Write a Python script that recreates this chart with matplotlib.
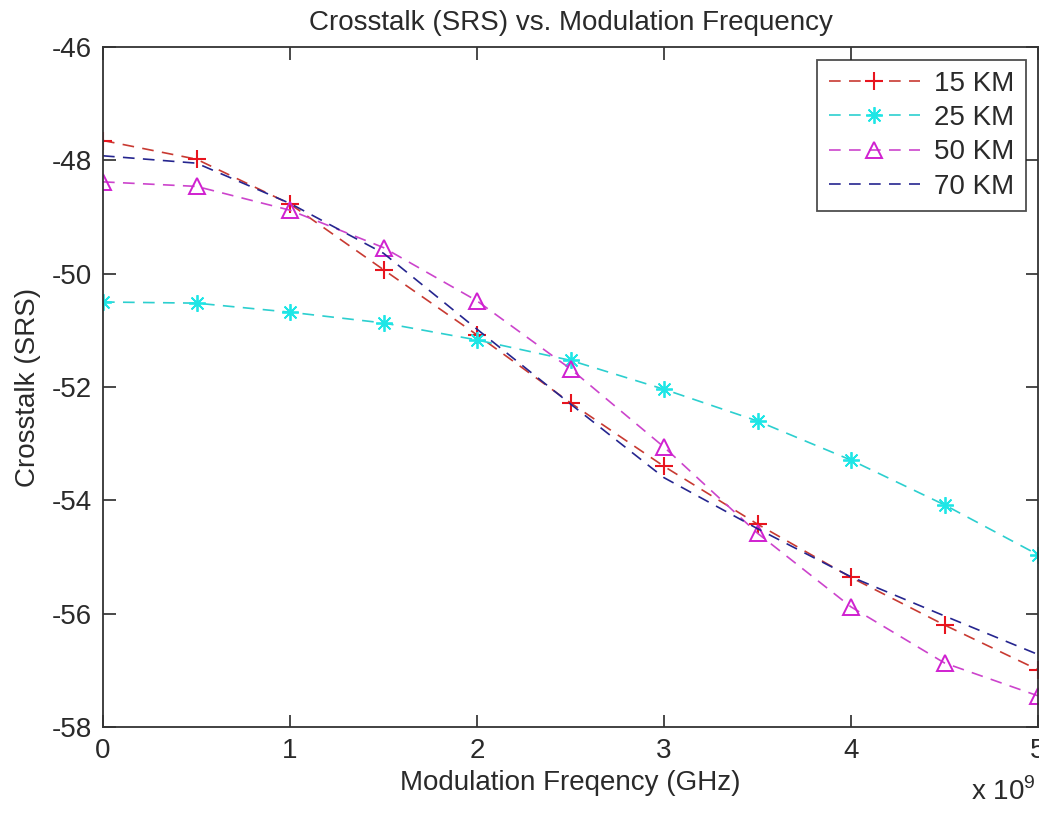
import matplotlib
matplotlib.use("Agg")
import matplotlib.pyplot as plt
from matplotlib.ticker import FuncFormatter

plt.rcParams['font.family'] = ['Liberation Sans', 'DejaVu Sans']
plt.rcParams['mathtext.fontset'] = 'custom'
plt.rcParams['mathtext.rm'] = 'Liberation Sans'

freq_hz = [0, 0.5e9, 1.0e9, 1.5e9, 2.0e9, 2.5e9, 3.0e9, 3.5e9, 4.0e9, 4.5e9, 5.0e9]
km15 = [-47.65, -47.98, -48.77, -49.93, -51.08, -52.28, -53.40, -54.42, -55.36, -56.20, -56.99]
km25 = [-50.50, -50.52, -50.68, -50.87, -51.17, -51.53, -52.04, -52.60, -53.29, -54.08, -54.96]
km50 = [-48.38, -48.46, -48.88, -49.54, -50.48, -51.68, -53.06, -54.58, -55.88, -56.87, -57.45]
km70 = [-47.92, -48.05, -48.76, -49.64, -50.98, -52.30, -53.60, -54.50, -55.35, -56.04, -56.72]
labels = ['15 KM', '25 KM', '50 KM', '70 KM']
xticks = [0, 1e9, 2e9, 3e9, 4e9, 5e9]
yticks = [-58, -56, -54, -52, -50, -48, -46]

FS = 20
TXT = '#2a2a2a'

fig = plt.figure(figsize=(10.39, 8.16), dpi=100)
ax = fig.add_axes([103/1039, 1-727/816, 935/1039, 680/816])

dash = (0, (7, 5))
lw = 1.2
ax.plot(freq_hz, km15, color='#c83a32', linestyle=dash, lw=lw, marker='+', ms=13,
        mec='#e8141e', mew=1.5, label=labels[0])
ax.plot(freq_hz, km25, color='#2ccfcf', linestyle=dash, lw=lw, marker=(8, 2, 0), ms=12,
        mec='#1ee6e6', mfc='#1ee6e6', mew=1.3, label=labels[1])
ax.plot(freq_hz, km50, color='#cc44cc', linestyle=dash, lw=lw, marker='^', ms=12,
        mec='#d020d0', mfc='none', mew=1.4, label=labels[2])
ax.plot(freq_hz, km70, color='#25258f', linestyle=dash, lw=lw, label=labels[3])

ax.set_xlim(0, 5e9)
ax.set_ylim(-58, -46)
ax.set_xticks(xticks)
ax.set_yticks(yticks)
ax.xaxis.set_major_formatter(FuncFormatter(lambda v, p: f"{v/1e9:g}"))
ax.yaxis.set_major_formatter(FuncFormatter(lambda v, p: f"{v:g}"))
ax.tick_params(direction='in', length=9, width=1.2, top=True, right=True,
               labelsize=FS, colors=TXT)
ax.tick_params(axis='y', pad=8)
ax.tick_params(axis='x', pad=8)
for s in ax.spines.values():
    s.set_linewidth(1.3)
    s.set_color('#333333')

ax.set_title('Crosstalk (SRS) vs. Modulation Frequency', fontsize=FS, color=TXT, pad=12)
ax.set_xlabel('Modulation Freqency (GHz)', fontsize=FS, color=TXT, labelpad=4)
ax.set_ylabel('Crosstalk (SRS)', fontsize=FS, color=TXT, labelpad=8)

fig.text(1003/1039, 1-792/816, r'x 10$^{9}$', fontsize=FS, color=TXT,
         ha='center', va='center')

leg = ax.legend(loc='upper right', fontsize=FS, frameon=True, fancybox=False,
                handlelength=3.3, borderpad=0.4, labelspacing=0.3, handletextpad=0.5,
                borderaxespad=0.45)
leg.get_frame().set_edgecolor('#222222')
leg.get_frame().set_linewidth(1.3)
for t in leg.get_texts():
    t.set_color(TXT)

fig.savefig('out.png', dpi=100)
